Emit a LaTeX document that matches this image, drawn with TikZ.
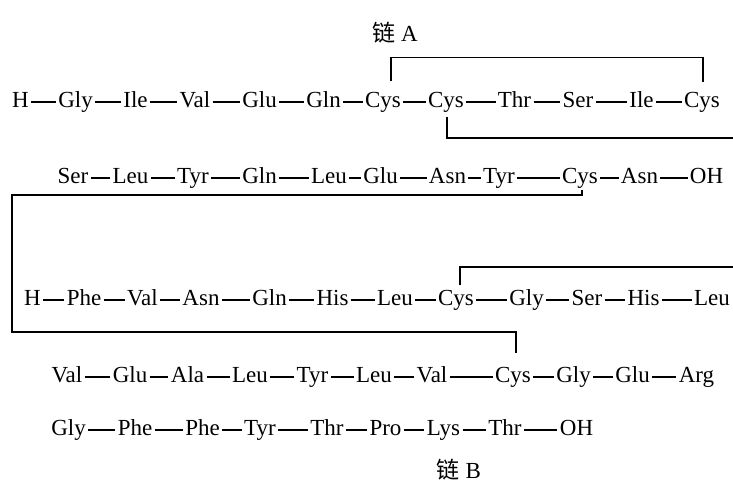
\documentclass[tikz,border=0pt]{standalone}
\usepackage{fontspec}
\setmainfont{Liberation Serif}
\newfontfamily\cjk{Noto Sans CJK SC}
\usetikzlibrary{calc, positioning}

\tikzset{
	res/.style={inner xsep=1pt, inner ysep=0pt, text height=1.6ex, text depth=.4ex, font=\fontsize{11.5}{14}\selectfont},
	chain/.style={font=\fontsize{11.5}{14}\selectfont},
	bond/.style={line width=.55pt},
	ss/.style={line width=.75pt},
}

\begin{document}
\begin{tikzpicture}[x=.5pt, y=-.5pt]
	\useasboundingbox (0,0) rectangle (733,482);

	% --- chain A ---
	\node[chain] (titleA) at (395,33) {{\cjk 链}\ A};
	\foreach \idx/\amino/\x in {0/H/20.5, 1/Gly/75.5, 2/Ile/135.5, 3/Val/195, 4/Glu/259.5, 5/Gln/323.5, 6/Cys/383, 7/Cys/446, 8/Thr/514.5, 9/Ser/578, 10/Ile/641.5, 11/Cys/702}
		\node[res] (a\idx) at (\x,102) {\amino};
	\foreach \idx/\amino/\x in {12/Ser/73, 13/Leu/130.5, 14/Tyr/193, 15/Gln/259.5, 16/Leu/329, 17/Glu/380.5, 18/Asn/447.5, 19/Tyr/499, 20/Cys/580, 21/Asn/639.5, 22/OH/706.5}
		\node[res] (a\idx) at (\x,178) {\amino};
	\foreach \s/\e in {0/10, 12/21}
		\foreach \i in {\s,...,\e} {
			\pgfmathtruncatemacro\j{\i+1}
			\draw[bond] (a\i) -- (a\j);
		}

	% --- chain B ---
	\foreach \idx/\amino/\x in {0/H/32.5, 1/Phe/84, 2/Val/142.5, 3/Asn/201, 4/Gln/269.5, 5/His/332.5, 6/Leu/395, 7/Cys/456, 8/Gly/526.5, 9/Ser/587, 10/His/643.5, 11/Leu/712}
		\node[res] (b\idx) at (\x,300) {\amino};
	\foreach \idx/\amino/\x in {12/Val/67, 13/Glu/130, 14/Ala/187.5, 15/Leu/250, 16/Tyr/312.5, 17/Leu/374, 18/Val/432, 19/Cys/513, 20/Gly/573.5, 21/Glu/632.5, 22/Arg/696.5}
		\node[res] (b\idx) at (\x,377) {\amino};
	\foreach \idx/\amino/\x in {23/Gly/68.5, 24/Phe/135, 25/Phe/202.5, 26/Tyr/260, 27/Thr/327, 28/Pro/385.5, 29/Lys/443.5, 30/Thr/505, 31/OH/576.5}
		\node[res] (b\idx) at (\x,430) {\amino};
	\node[chain] (titleB) at (459,470) {{\cjk 链}\ B};
	\foreach \s/\e in {0/10, 12/21, 23/30}
		\foreach \i in {\s,...,\e} {
			\pgfmathtruncatemacro\j{\i+1}
			\draw[bond] (b\i) -- (b\j);
		}

	% --- disulfide bridges ---
	\coordinate (rimA) at (733,138);
	\coordinate (rimB) at (733,267);
	\draw[ss] ([shift={(8,-11)}]a6.north) -- ++(0,-24) -| ([shift={(1,-10)}]a11.north);
	\draw[ss] ([shift={(1,5)}]a7.south) |- (rimA);
	\draw[ss] ([shift={(4,-5)}]b7.north) |- (rimB);
	\draw[ss] ([shift={(2,2)}]a20.south) -- ++(0,5.5) -| ++(-570,137) -| ([shift={(3,-14)}]b19.north);
\end{tikzpicture}
\end{document}
